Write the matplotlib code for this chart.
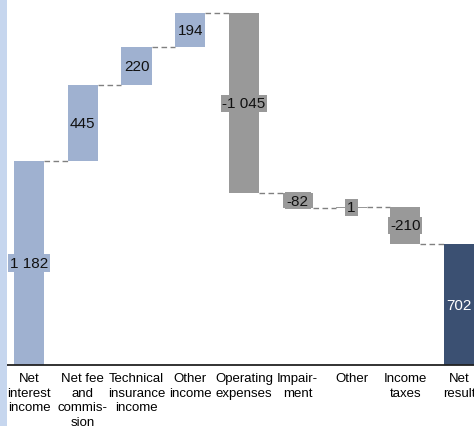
import matplotlib.pyplot as plt
from matplotlib.patches import Rectangle

plt.rcParams['font.family'] = ['Liberation Sans', 'DejaVu Sans']

# Waterfall data (EUR m)
categories = ["Net\ninterest\nincome", "Net fee\nand\ncommis-\nsion", "Technical\ninsurance\nincome",
              "Other\nincome", "Operating\nexpenses", "Impair-\nment", "Other", "Income\ntaxes", "Net\nresult"]
values = [1182, 445, 220, 194, -1045, -82, 1, -210, 702]
value_labels = ["1 182", "445", "220", "194", "-1 045", "-82", "1", "-210", "702"]
kinds = ["inc", "inc", "inc", "inc", "cost", "cost", "cost", "cost", "total"]

colors = {"inc": "#9fb1d0", "cost": "#999999", "total": "#3b5072"}
text_colors = {"inc": "#111111", "cost": "#111111", "total": "#ffffff"}

fig = plt.figure(figsize=(4.74, 4.27), dpi=100)
fig.patches.append(Rectangle((0, 0), 7 / 474, 1, transform=fig.transFigure,
                             facecolor="#c6d6ee", edgecolor="none", zorder=0))
ax = fig.add_axes([7 / 474, 61 / 427, 467 / 474, 366 / 427])

bar_w = 0.56
tops = []
running = 0
for i, v in enumerate(values):
    if kinds[i] == "total":
        b, t = 0, v
    else:
        b, t = running, running + v
        running = t
    tops.append(t)
    h = abs(t - b)
    ax.bar(i, h, bottom=min(b, t), width=bar_w, color=colors[kinds[i]], zorder=2)
    ax.text(i, min(b, t) + h / 2, value_labels[i], ha="center", va="center",
            fontsize=11, color=text_colors[kinds[i]], zorder=4,
            bbox=dict(boxstyle="square,pad=0.12", facecolor=colors[kinds[i]], edgecolor="none"))

# dashed connectors between bars
for i in range(len(values) - 1):
    ax.plot([i + bar_w / 2, i + 1 - bar_w / 2], [tops[i], tops[i]],
            color="#808080", lw=1, ls=(0, (4, 2.5)), zorder=1)

ax.set_xlim(-0.41, 8.28)
ax.set_ylim(0, 2125)
ax.set_yticks([])
ax.set_xticks(range(len(categories)))
ax.set_xticklabels(categories, fontsize=9.5, linespacing=1.3)
ax.tick_params(axis="x", length=0, pad=5)
for s in ["top", "left", "right"]:
    ax.spines[s].set_visible(False)
ax.spines["bottom"].set_color("#222222")
ax.spines["bottom"].set_linewidth(1.3)
ax.patch.set_alpha(0)

fig.savefig("out.png", dpi=100)
